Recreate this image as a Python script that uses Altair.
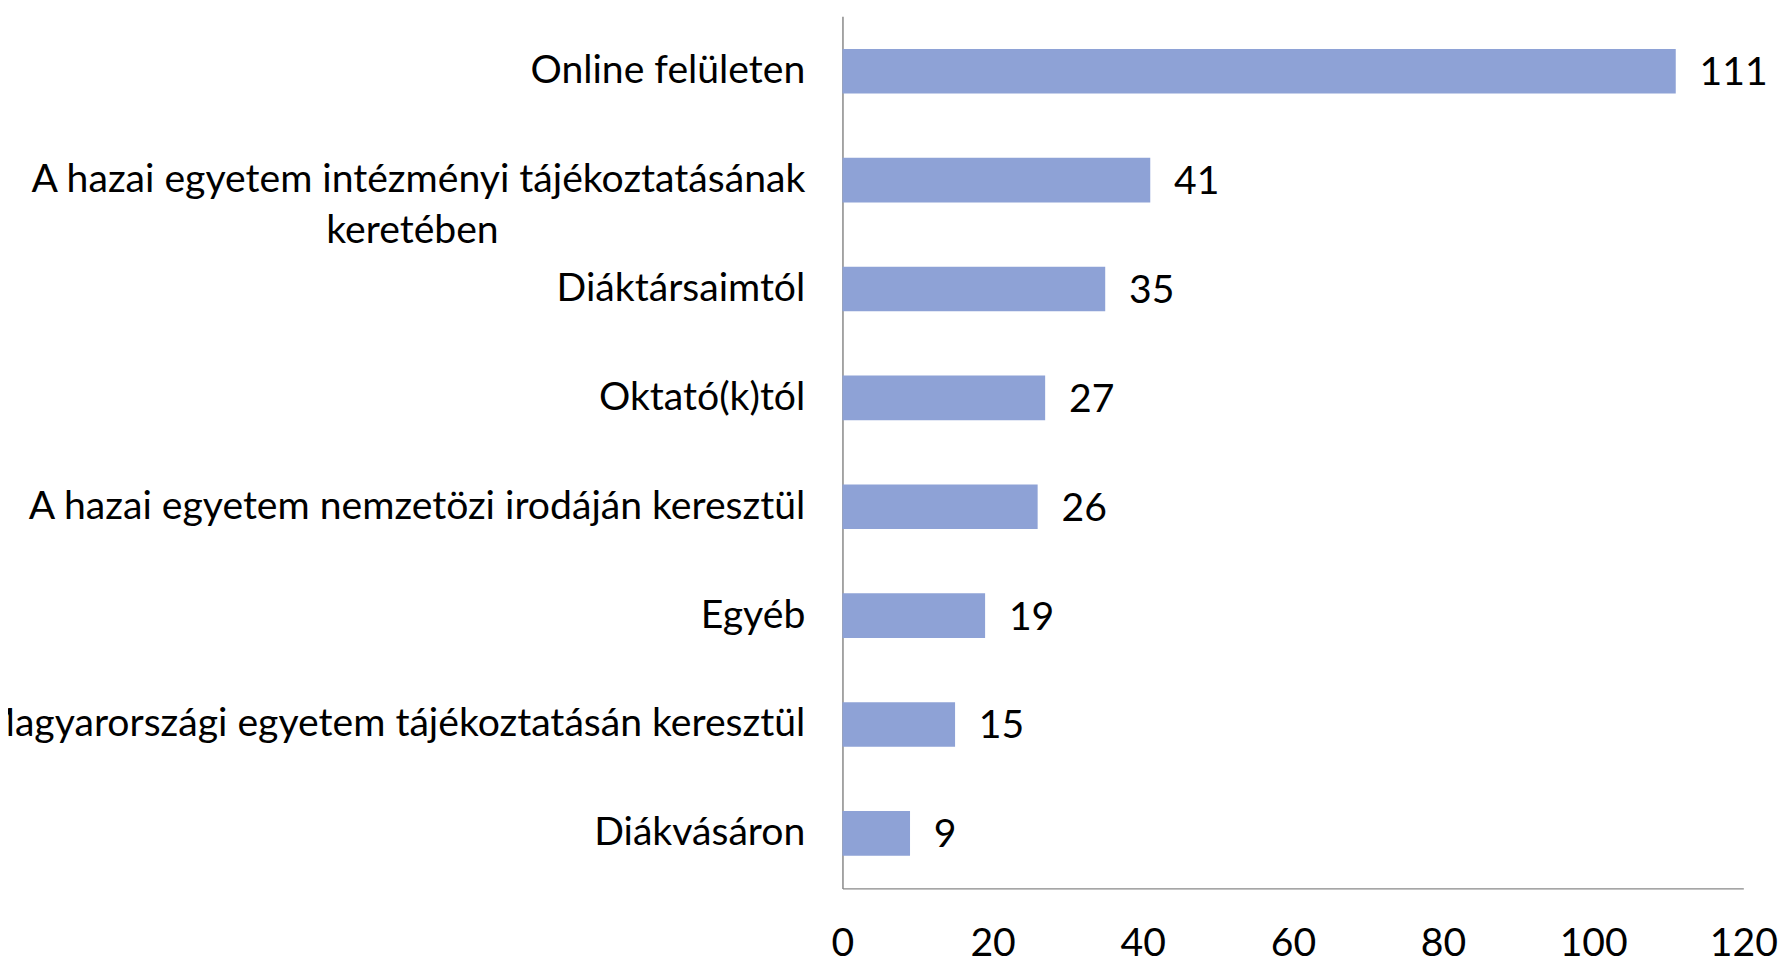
import altair as alt
import pandas as pd

categories = [
    "Online felületen",
    "A hazai egyetem intézményi tájékoztatásának|keretében",
    "Diáktársaimtól",
    "Oktató(k)tól",
    "A hazai egyetem nemzetözi irodáján keresztül",
    "Egyéb",
    "Magyarországi egyetem tájékoztatásán keresztül",
    "Diákvásáron",
]
values = [111, 41, 35, 27, 26, 19, 15, 9]
x_ticks = [0, 20, 40, 60, 80, 100, 120]

df = pd.DataFrame({"cat": categories, "val": values})

FONT = "Lato, DejaVu Sans, sans-serif"
FS = 39.5
# non-trimmable blank padding so the second line of the wrapped label sits centred
PAD2 = "\u00a0" * 2 + "\u2800" * 10

y_enc = alt.Y(
    "cat:N",
    sort=categories,
    title=None,
    scale=alt.Scale(paddingInner=0.59, paddingOuter=0.3),
    axis=alt.Axis(
        labelExpr="indexof(datum.label, '|') >= 0 ? [split(datum.label, '|')[0], split(datum.label, '|')[1] + '" + PAD2 + "'] : datum.label",
        labelFont=FONT,
        labelFontSize=FS,
        labelColor="#000000",
        labelPadding=38,
        labelLineHeight=51,
        labelLimit=0,
        ticks=False,
        domainColor="#888888",
        domainWidth=1.5,
        grid=False,
    ),
)

x_enc = alt.X(
    "val:Q",
    title=None,
    scale=alt.Scale(domain=[0, 120], nice=False),
    axis=alt.Axis(
        values=x_ticks,
        labelFont=FONT,
        labelFontSize=FS,
        labelColor="#000000",
        labelPadding=37,
        labelFlush=False,
        ticks=False,
        domainColor="#888888",
        domainWidth=1.5,
        grid=False,
    ),
)

bars = alt.Chart(df).mark_bar(color="#8EA2D6").encode(x=x_enc, y=y_enc)

labels = alt.Chart(df).mark_text(
    align="left", baseline="middle", dx=24, dy=2, font=FONT, fontSize=FS, color="#000000"
).encode(x="val:Q", y=alt.Y("cat:N", sort=categories), text="val:Q")

chart = (
    alt.layer(bars, labels)
    .properties(
        width=909,
        height=880,
        autosize=alt.AutoSizeParams(type="none"),
        padding={"left": 842, "top": 4, "right": 36, "bottom": 76},
        background="white",
    )
    .configure_view(strokeWidth=0, stroke="transparent")
)

chart.save("out.html", embed_options={"renderer": "svg", "actions": False})
